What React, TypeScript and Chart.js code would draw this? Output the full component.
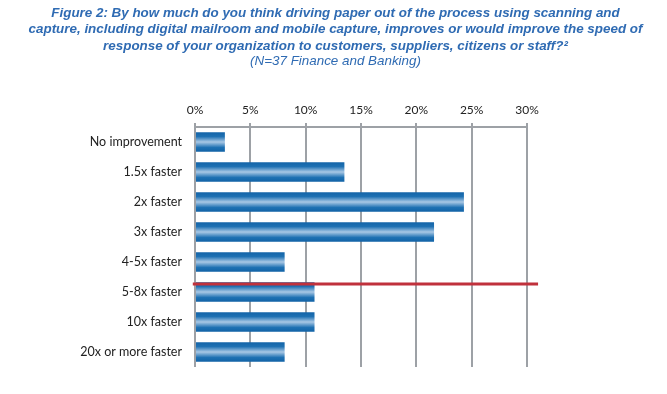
import React, { useEffect, useRef } from "react";
import { Chart, registerables } from "chart.js";

Chart.register(...registerables);

const categories = [
  "No improvement",
  "1.5x faster",
  "2x faster",
  "3x faster",
  "4-5x faster",
  "5-8x faster",
  "10x faster",
  "20x or more faster",
];
const values = [2.7, 13.5, 24.3, 21.6, 8.1, 10.8, 10.8, 8.1];
const xTickMin = 0;
const xTickMax = 30;
const xTickStep = 5;
const titleLines = [
  "Figure 2: By how much do you think driving paper out of the process using scanning and",
  "capture, including digital mailroom and mobile capture, improves or would improve the speed of",
  "response of your organization to customers, suppliers, citizens or staff?\u00B2",
];
const subtitleText = "(N=37 Finance and Banking)";
// reference line: position in category units and extent in % units
const refLineCategoryPos = 4.73;
const refLineFrom = -0.2;
const refLineTo = 31;

const TITLE_FONT = '"Liberation Sans", Arial, sans-serif';
const LABEL_FONT = 'Lato, "Open Sans", sans-serif';

const refLinePlugin = {
  id: "refLine",
  afterDatasetsDraw(chart: any) {
    const { ctx, scales } = chart;
    const x = scales.x;
    const y = scales.y;
    const p0 = y.getPixelForValue(Math.floor(refLineCategoryPos));
    const p1 = y.getPixelForValue(Math.floor(refLineCategoryPos) + 1);
    const yy = p0 + (p1 - p0) * (refLineCategoryPos - Math.floor(refLineCategoryPos));
    ctx.save();
    ctx.strokeStyle = "#c0313c";
    ctx.lineWidth = 3;
    ctx.beginPath();
    ctx.moveTo(x.getPixelForValue(refLineFrom), yy);
    ctx.lineTo(x.getPixelForValue(refLineTo), yy);
    ctx.stroke();
    ctx.restore();
  },
};

export default function App() {
  const canvasRef = useRef<HTMLCanvasElement | null>(null);

  useEffect(() => {
    document.body.style.margin = "0";
    const canvas = canvasRef.current;
    if (!canvas) return;
    const chart = new Chart(canvas, {
      type: "bar",
      data: {
        labels: categories,
        datasets: [
          {
            data: values,
            backgroundColor: (ctx: any) => {
              const chart = ctx.chart;
              const y = chart.scales && chart.scales.y;
              if (!y || ctx.type !== "data") return "#1b6db0";
              const c = y.getPixelForValue(ctx.dataIndex);
              const step = Math.abs(y.getPixelForValue(1) - y.getPixelForValue(0));
              const half = (step * 0.65) / 2;
              if (!isFinite(c) || !isFinite(half) || half <= 0) return "#1b6db0";
              const g = chart.ctx.createLinearGradient(0, c - half, 0, c + half);
              g.addColorStop(0, "#1464a8");
              g.addColorStop(0.22, "#1f71b3");
              g.addColorStop(0.5, "#a9c8e5");
              g.addColorStop(0.78, "#1f71b3");
              g.addColorStop(1, "#1162a6");
              return g;
            },
            borderWidth: 0,
            barPercentage: 0.65,
            categoryPercentage: 1,
          },
        ],
      },
      options: {
        indexAxis: "y",
        animation: false,
        responsive: true,
        maintainAspectRatio: false,
        layout: { padding: { left: 4, right: 0, top: 0, bottom: 27 } },
        plugins: {
          legend: { display: false },
          tooltip: { enabled: false },
          title: {
            display: true,
            text: titleLines,
            color: "#2f6bb3",
            font: { family: TITLE_FONT, size: 13.4, weight: "bold", style: "italic", lineHeight: "16.5px" },
            padding: { top: 5, bottom: 0 },
          },
          subtitle: {
            display: true,
            text: subtitleText,
            color: "#2f6bb3",
            font: { family: TITLE_FONT, size: 13.4, style: "italic", lineHeight: "14.5px" },
            padding: { top: 0, bottom: 0 },
          },
        },
        scales: {
          x: {
            position: "top",
            min: xTickMin,
            max: xTickMax,
            ticks: {
              stepSize: xTickStep,
              callback: (v: any) => v + "%",
              color: "#222",
              font: { family: LABEL_FONT, size: 12 },
              padding: 6,
            },
            grid: {
              color: "#9da1a6",
              lineWidth: 2,
              tickLength: 4,
              drawTicks: true,
            },
            border: { display: true, color: "#9da1a6", width: 2 },
            afterFit: (scale: any) => {
              scale.height = 58;
            },
          },
          y: {
            ticks: {
              color: "#222",
              font: { family: LABEL_FONT, size: 12.5 },
              padding: 13,
            },
            grid: { display: false, drawTicks: false },
            border: { display: false },
            afterFit: (scale: any) => {
              scale.width = 191;
            },
          },
          yRightSpace: {
            type: "category",
            axis: "y",
            position: "right",
            display: true,
            ticks: { display: false },
            grid: { display: false, drawTicks: false },
            border: { display: false },
            afterFit: (scale: any) => {
              scale.width = 140;
            },
          },
        },
      },
      plugins: [refLinePlugin],
    } as any);
    return () => chart.destroy();
  }, []);

  return (
    <div style={{ position: "absolute", left: 0, top: 0, width: 667, height: 394, background: "#fff" }}>
      <canvas ref={canvasRef} />
    </div>
  );
}
